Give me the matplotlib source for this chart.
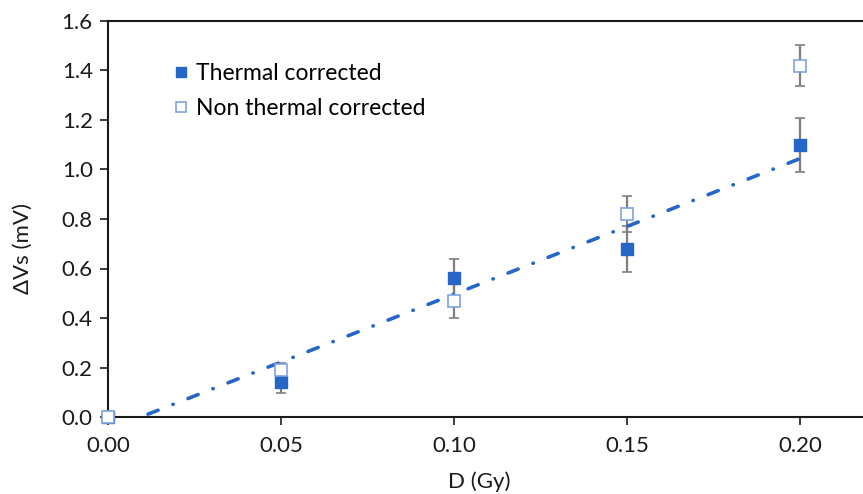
import numpy as np
import matplotlib
matplotlib.use('Agg')
import matplotlib.pyplot as plt
from matplotlib.ticker import FormatStrFormatter, MultipleLocator

plt.rcParams['font.family'] = ['Lato', 'DejaVu Sans']

# data
dose = [0.00, 0.05, 0.10, 0.15, 0.20]
thermal = [0.00, 0.14, 0.56, 0.68, 1.10]
thermal_err = [0.0, 0.043, 0.08, 0.093, 0.11]
non_thermal = [0.00, 0.19, 0.47, 0.82, 1.42]
non_thermal_err = [0.0, 0.03, 0.068, 0.072, 0.084]

blue = '#2566C8'
light_blue = '#7FA3E0'
grey = '#7F7F7F'
dark = '#1A1A1A'

fig = plt.figure(figsize=(8.63, 4.94), dpi=100)
# axes run past the right edge, as in the cropped original
ax = fig.add_axes([108/863, 1-417/494, 865/863, 396/494])

ax.errorbar(dose, thermal, yerr=thermal_err, fmt='none', ecolor=grey,
            elinewidth=1.6, capsize=3.5, capthick=1.2, zorder=2)
ax.errorbar(dose, non_thermal, yerr=non_thermal_err, fmt='none', ecolor=grey,
            elinewidth=1.6, capsize=3.5, capthick=1.2, zorder=2)
ax.plot(dose, thermal, 's', ms=8, color=blue, mec=blue, clip_on=False,
        zorder=3, label='Thermal corrected')

# linear trendline of the thermal corrected series
k, b = np.polyfit(dose, thermal, 1)
fx = np.array([0.0, 0.20])
ax.plot(fx, k*fx+b, color=blue, lw=2.6, linestyle=(0, (3, 4.4, 0.1, 4.4)),
        dash_capstyle='round', zorder=4)

ax.plot(dose, non_thermal, 's', ms=8, color='white', mec=light_blue, mew=1.2,
        clip_on=False, zorder=5, label='Non thermal corrected')

ax.set_xlim(0, 0.25)
ax.set_ylim(0, 1.6)
ax.yaxis.set_major_locator(MultipleLocator(0.2))
ax.xaxis.set_major_formatter(FormatStrFormatter('%.2f'))
ax.yaxis.set_major_formatter(FormatStrFormatter('%.1f'))
ax.set_xticks([0.00, 0.05, 0.10, 0.15, 0.20])

for s in ['left', 'bottom', 'top']:
    ax.spines[s].set_linewidth(1.5)
    ax.spines[s].set_color(dark)
ax.spines['right'].set_visible(False)
ax.tick_params(axis='both', direction='out', colors=dark, labelsize=16,
               width=1.2, length=6)
ax.tick_params(axis='x', pad=8)
ax.tick_params(axis='y', pad=5)

ax.set_xlabel('D (Gy)', fontsize=16, color=dark)
ax.set_ylabel('ΔVs (mV)', fontsize=16, color=dark)
ax.xaxis.set_label_coords((479-108)/865, -(471-417)/396)
ax.yaxis.set_label_coords(-(108-33)/865, (417-249)/396)

leg = ax.legend(loc='upper left', bbox_to_anchor=((170-108)/865, 1-(63-21)/396),
                frameon=False, fontsize=16.5, handletextpad=0.15,
                labelspacing=0.62, markerscale=0.85, handlelength=1.0,
                borderaxespad=0, borderpad=0)

fig.savefig('out.png', dpi=100)
